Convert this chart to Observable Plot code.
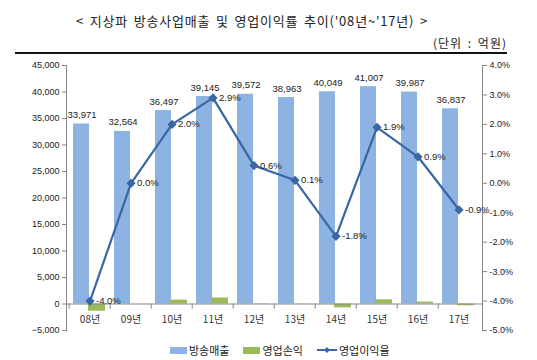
<!DOCTYPE html>
<html><head><meta charset="utf-8">
<script src="https://cdn.jsdelivr.net/npm/d3@7"></script>
<script src="https://cdn.jsdelivr.net/npm/@observablehq/plot@0.6"></script>
<style>
body{margin:0;background:#fff;font-family:"Liberation Sans","Noto Sans CJK KR",sans-serif;color:#222;}
#wrap{position:relative;width:537px;height:360px;overflow:hidden;}
#title{position:absolute;top:11px;left:76px;font-size:13px;letter-spacing:0.8px;word-spacing:2px;font-family:"Noto Sans CJK KR",sans-serif;white-space:nowrap;}
#unit{position:absolute;top:34px;right:30px;font-size:12px;letter-spacing:1px;word-spacing:2px;font-family:"Noto Sans CJK KR",sans-serif;white-space:nowrap;}
#rule{position:absolute;top:52px;left:15px;width:492px;height:2px;background:#111;}
#chart{position:absolute;top:55px;left:0;}
#legend{position:absolute;top:342px;left:170px;font-size:11px;font-family:"Noto Sans CJK KR",sans-serif;display:flex;align-items:center;white-space:nowrap;}
.sw{display:inline-block;width:17px;height:7px;margin-right:2px;}
.item{display:flex;align-items:center;margin-right:14px;}
</style></head>
<body><div id="wrap">
<div id="title">&lt; 지상파 방송사업매출 및 영업이익률 추이('08년~'17년) &gt;</div>
<div id="unit">(단위 : 억원)</div>
<div id="rule"></div>
<div id="chart"></div>
<div id="legend"></div>
</div>
<script>
const years = ["08년","09년","10년","11년","12년","13년","14년","15년","16년","17년"];
const sales = [33971,32564,36497,39145,39572,38963,40049,41007,39987,36837];
const profit = [-1359,10,730,1135,60,39,-721,779,360,-331];
const rates = [-4.0,0.0,2.0,2.9,0.6,0.1,-1.8,1.9,0.9,-0.9];
const leftTicks = [-5000,0,5000,10000,15000,20000,25000,30000,35000,40000,45000];
const rightTicks = [-5,-4,-3,-2,-1,0,1,2,3,4];

const C_SALES = "#8DB3E2", C_PROFIT = "#9BBB59", C_LINE = "#3A66A3";
const L0 = -5000, L1 = 45000, R0 = -5, R1 = 4;
const toLeft = r => (r - R0) / (R1 - R0) * (L1 - L0) + L0;
const fromLeft = v => (v - L0) / (L1 - L0) * (R1 - R0) + R0;

const rows = years.map((y,i)=>({year:y, sales:sales[i], profit:profit[i], rate:rates[i], rl:toLeft(rates[i])}));
const W = 537, H = 287, mL = 66, mR = 55, mT = 10, mB = 12;
const bw = (W - mL - mR) / years.length;
const fnt = "Liberation Sans, Noto Sans CJK KR, sans-serif";

const chart = Plot.plot({
  width: W, height: H, marginLeft: mL, marginRight: mR, marginTop: mT, marginBottom: mB,
  style: {fontFamily: fnt, fontSize: "9px", color: "#222", background: "#fff"},
  x: {type: "band", domain: years, padding: 0, axis: null},
  y: {domain: [L0, L1], axis: null},
  marks: [
    Plot.barY(rows, {x: "year", y: "sales", fill: C_SALES, insetLeft: 4, insetRight: 21}),
    Plot.barY(rows, {x: "year", y: "profit", fill: C_PROFIT, insetLeft: 19, insetRight: 5}),
    Plot.ruleY([0], {stroke: "#888", strokeWidth: 1}),
    Plot.ruleX(years, {x: d => d, y1: 0, y2: -1000, dx: -bw/2, stroke: "#888"}),
    Plot.frame({anchor: "left", stroke: "#888"}),
    Plot.frame({anchor: "right", stroke: "#888"}),
    Plot.axisY(leftTicks, {anchor: "left", tickSize: 4, tickPadding: 3, stroke: "#888", fill: "#222", fontSize: 9, tickFormat: d3.format(",")}),
    Plot.axisY(rightTicks.map(toLeft), {anchor: "right", tickSize: 4, tickPadding: 3, stroke: "#888", fill: "#222", fontSize: 9, tickFormat: v => fromLeft(v).toFixed(1) + "%"}),
    Plot.text(rows, {x: "year", y: 0, text: "year", dy: 16, dx: 0, fontSize: 10, fill: "#333", fontFamily: "Noto Sans CJK KR, sans-serif"}),
    Plot.text(rows, {x: "year", y: "sales", text: d => d3.format(",")(d.sales), dx: -8, dy: -9, fontSize: 9.5, fill: "#222"}),
    Plot.line(rows, {x: "year", y: "rl", stroke: C_LINE, strokeWidth: 2.2}),
    Plot.dot(rows, {x: "year", y: "rl", symbol: "diamond2", r: 3.2, fill: C_LINE, stroke: C_LINE}),
    Plot.text(rows, {x: "year", y: "rl", text: d => d.rate.toFixed(1) + "%", textAnchor: "start", dx: 6, fontSize: 9.5, fill: "#222"})
  ]
});
document.getElementById("chart").appendChild(chart);

const legendItems = [
  {label: "방송매출", kind: "bar", color: C_SALES},
  {label: "영업손익", kind: "bar", color: C_PROFIT},
  {label: "영업이익율", kind: "line", color: C_LINE}
];
const lg = document.getElementById("legend");
for (const it of legendItems) {
  const d = document.createElement("div"); d.className = "item";
  if (it.kind === "bar") {
    const s = document.createElement("span"); s.className = "sw"; s.style.background = it.color; d.appendChild(s);
  } else {
    const ns = "http://www.w3.org/2000/svg";
    const svg = document.createElementNS(ns, "svg"); svg.setAttribute("width", 20); svg.setAttribute("height", 8); svg.style.marginRight = "2px";
    const l = document.createElementNS(ns, "line"); l.setAttribute("x1", 0); l.setAttribute("x2", 20); l.setAttribute("y1", 4); l.setAttribute("y2", 4); l.setAttribute("stroke", it.color); l.setAttribute("stroke-width", 2);
    const p = document.createElementNS(ns, "path"); p.setAttribute("d", "M10,1 L13,4 L10,7 L7,4Z"); p.setAttribute("fill", it.color);
    svg.appendChild(l); svg.appendChild(p); d.appendChild(svg);
  }
  const t = document.createElement("span"); t.textContent = it.label; d.appendChild(t);
  lg.appendChild(d);
}
</script>
</body></html>
